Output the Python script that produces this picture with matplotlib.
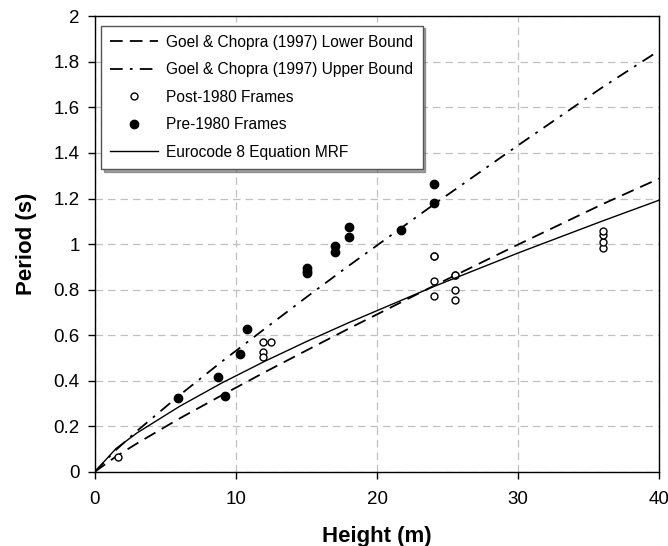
import matplotlib
matplotlib.use('Agg')
import matplotlib.pyplot as plt
import numpy as np

plt.rcParams['font.family'] = ['Liberation Sans', 'DejaVu Sans']

# Goel & Chopra bounds and EC8 equation
h_line = [0, 1.5, 3, 6, 9, 12, 15, 18, 24, 30, 36, 40]
t_lower = [0, 0.067, 0.125, 0.234, 0.336, 0.436, 0.533, 0.629, 0.816, 0.998, 1.176, 1.288]
t_upper = [0, 0.096, 0.180, 0.336, 0.484, 0.626, 0.767, 0.905, 1.173, 1.434, 1.690, 1.850]
t_ec8 = [0, 0.102, 0.171, 0.287, 0.390, 0.484, 0.572, 0.655, 0.813, 0.961, 1.102, 1.193]

# Post-1980 frames
h_post = [1.65, 11.95, 12.45, 11.95, 11.95, 24, 24, 24, 24, 25.5, 25.5, 25.5, 25.5, 36, 36, 36, 36]
t_post = [0.066, 0.568, 0.568, 0.524, 0.504, 0.946, 0.946, 0.838, 0.774,
          0.866, 0.866, 0.797, 0.756, 0.981, 1.009, 1.040, 1.059]

# Pre-1980 frames
h_pre = [5.9, 8.7, 9.2, 10.3, 10.8, 15, 15, 15, 17, 17, 18, 18, 21.7, 24, 24]
t_pre = [0.325, 0.415, 0.332, 0.515, 0.626, 0.871, 0.881, 0.893, 0.966, 0.993,
         1.033, 1.074, 1.063, 1.180, 1.265]

fig = plt.figure(figsize=(6.68, 5.46), dpi=100)
ax = fig.add_axes([0.142, 0.136, 0.845, 0.834])

ax.plot(h_line, t_lower, color='black', lw=1.3, dashes=(7, 4),
        label='Goel & Chopra (1997) Lower Bound')
ax.plot(h_line, t_upper, color='black', lw=1.3, dashes=(7, 4, 1.5, 4),
        label='Goel & Chopra (1997) Upper Bound')
ax.plot(h_post, t_post, 'o', ms=5, mfc='white', mec='black', mew=1.0,
        label='Post-1980 Frames')
ax.plot(h_pre, t_pre, 'o', ms=6, mfc='black', mec='black',
        label='Pre-1980 Frames')
ax.plot(h_line, t_ec8, color='black', lw=1.0, label='Eurocode 8 Equation MRF')

ax.set_xlim(0, 40)
ax.set_ylim(0, 2)
ax.set_xticks(np.arange(0, 41, 10))
ax.set_yticks(np.arange(0, 2.01, 0.2))
ax.set_yticklabels(['0', '0.2', '0.4', '0.6', '0.8', '1', '1.2', '1.4', '1.6', '1.8', '2'])
ax.tick_params(direction='out', length=5, width=1, labelsize=13.5, colors='black')
ax.tick_params(axis='x', pad=9)
ax.tick_params(axis='y', pad=6)
ax.grid(True, color='#c0c0c0', ls=(0, (6, 4)), lw=0.9)
for s in ax.spines.values():
    s.set_color('black')
    s.set_linewidth(1.0)

ax.set_xlabel('Height (m)', fontsize=16, fontweight='bold', labelpad=13)
ax.set_ylabel('Period (s)', fontsize=16, fontweight='bold', labelpad=12)

leg = ax.legend(loc='upper left', bbox_to_anchor=(-0.003, 0.997), fontsize=11.2,
                frameon=True, fancybox=False, shadow=True, handlelength=3.1,
                labelspacing=0.8, borderpad=0.6, handletextpad=0.5)
leg.get_frame().set_edgecolor('#555555')
leg.get_frame().set_linewidth(1.0)

fig.savefig('out.png', dpi=100)
